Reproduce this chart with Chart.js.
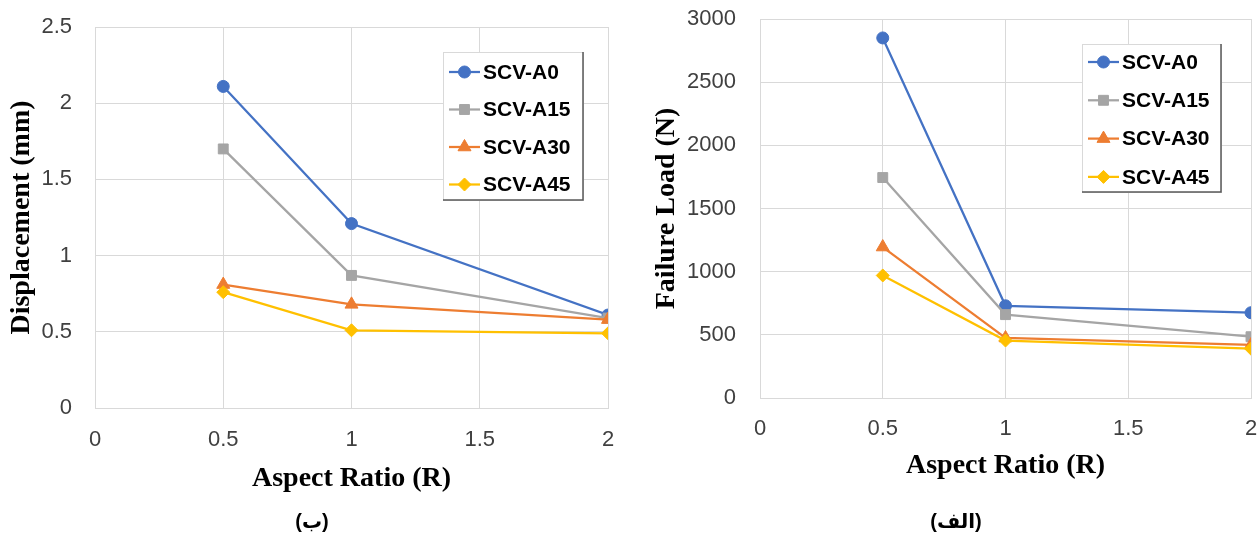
<!DOCTYPE html>
<html>
<head>
<meta charset="utf-8">
<script src="https://cdn.jsdelivr.net/npm/chart.js@4/dist/chart.umd.min.js"></script>
<style>
  body { margin: 0; background: #fff; width: 1260px; height: 533px; overflow: hidden; position: relative; }
  .panel { position: absolute; top: 0; width: 630px; height: 533px; }
  .cap { position: absolute; top: 509px; font: bold 20px "Liberation Sans", "DejaVu Sans", sans-serif; color: #000; transform: translateX(-50%); white-space: nowrap; }
</style>
</head>
<body>
<div class="panel" style="left:0"><canvas id="dispChart" width="630" height="533"></canvas></div>
<div class="panel" style="left:630px"><canvas id="loadChart" width="630" height="533"></canvas></div>
<div class="cap" style="left:312px">(ب)</div>
<div class="cap" style="left:956px">(الف)</div>
<script>
const ratios = [0.5, 1, 2];
const xTicks = [0, 0.5, 1, 1.5, 2];
const seriesNames = ["SCV-A0", "SCV-A15", "SCV-A30", "SCV-A45"];

// displacement (mm)
const dispA0 = [2.11, 1.21, 0.61];
const dispA15 = [1.70, 0.87, 0.59];
const dispA30 = [0.81, 0.68, 0.58];
const dispA45 = [0.76, 0.51, 0.49];
const dispTicks = [0, 0.5, 1, 1.5, 2, 2.5];

// failure load (N)
const loadA0 = [2850, 730, 675];
const loadA15 = [1745, 660, 485];
const loadA30 = [1195, 475, 420];
const loadA45 = [970, 455, 390];
const loadTicks = [0, 500, 1000, 1500, 2000, 2500, 3000];

const colors = ["#4472C4", "#A5A5A5", "#ED7D31", "#FFC000"];
const markers = ["circle", "rect", "triangle", "rectRot"];
const markerSize = [6, 7, 7.5, 6.5];

const tickFont = { family: '"Liberation Sans", Arial, sans-serif', size: 22 };
const titleFont = { family: '"Liberation Serif", "Times New Roman", serif', size: 28, weight: "bold" };

const legendBox = {
  id: "legendBox",
  afterDraw(chart, args, opts) {
    const ctx = chart.ctx;
    const { x, y, w, h, rowTop, rowStep } = opts;
    ctx.save();
    ctx.fillStyle = "#fff";
    ctx.fillRect(x, y, w, h);
    ctx.strokeStyle = "#d9d9d9";
    ctx.lineWidth = 1;
    ctx.strokeRect(x + 0.5, y + 0.5, w, h);
    ctx.strokeStyle = "#595959";
    ctx.lineWidth = 1.5;
    ctx.beginPath();
    ctx.moveTo(x + w, y);
    ctx.lineTo(x + w, y + h);
    ctx.lineTo(x, y + h);
    ctx.stroke();

    ctx.font = 'bold 21px "Liberation Sans", Arial, sans-serif';
    ctx.textBaseline = "middle";
    chart.data.datasets.forEach((ds, i) => {
      const ry = y + rowTop + i * rowStep;
      ctx.strokeStyle = ds.borderColor;
      ctx.lineWidth = 2.25;
      ctx.beginPath();
      ctx.moveTo(x + 6, ry);
      ctx.lineTo(x + 37, ry);
      ctx.stroke();
      ctx.fillStyle = ds.backgroundColor;
      ctx.strokeStyle = ds.borderColor;
      ctx.lineWidth = 1;
      Chart.helpers.drawPoint(ctx, { pointStyle: ds.pointStyle, radius: ds.pointRadius, borderWidth: 1 }, x + 21.5, ry);
      ctx.fillStyle = "#000";
      ctx.fillText(ds.label, x + 40, ry + 1);
    });
    ctx.restore();
  }
};

function makeChart(id, yTitle, values, yTicks, lay) {
  const datasets = values.map((vals, i) => ({
    label: seriesNames[i],
    data: vals.map((v, j) => ({ x: ratios[j], y: v })),
    borderColor: colors[i],
    backgroundColor: colors[i],
    borderWidth: 2.25,
    pointStyle: markers[i],
    pointRadius: markerSize[i],
    pointBorderWidth: 1,
    order: values.length - i,
    tension: 0
  }));

  return new Chart(document.getElementById(id), {
    type: "line",
    data: { datasets },
    plugins: [legendBox],
    options: {
      responsive: false,
      animation: false,
      devicePixelRatio: 1,
      layout: { padding: { left: 0, right: lay.padRight, top: lay.padTop, bottom: 0 } },
      plugins: {
        legend: { display: false },
        tooltip: { enabled: false },
        legendBox: lay.legend
      },
      scales: {
        x: {
          type: "linear",
          min: 0,
          max: 2,
          afterBuildTicks: (axis) => { axis.ticks = xTicks.map((v) => ({ value: v })); },
          afterFit: (axis) => { axis.height = lay.xAxisH; },
          // invisible tick marks give the label gap without padding the chart area
          grid: { color: "#d9d9d9", lineWidth: 1, drawTicks: true, tickLength: lay.xTickGap, tickColor: "rgba(0,0,0,0)" },
          border: { color: "#d9d9d9" },
          ticks: { padding: 0, color: "#404040", font: tickFont, callback: (v) => String(v) },
          title: {
            display: true,
            text: "Aspect Ratio (R)",
            color: "#000",
            font: titleFont,
            padding: { top: 0, bottom: lay.xTitlePad }
          }
        },
        y: {
          min: 0,
          max: yTicks[yTicks.length - 1],
          afterBuildTicks: (axis) => { axis.ticks = yTicks.map((v) => ({ value: v })); },
          afterFit: (axis) => { axis.width = lay.yAxisW; },
          grid: { color: "#d9d9d9", lineWidth: 1, drawTicks: true, tickLength: lay.yTickGap, tickColor: "rgba(0,0,0,0)" },
          border: { color: "#d9d9d9" },
          ticks: { padding: 0, color: "#404040", font: tickFont, callback: (v) => String(v) },
          title: {
            display: true,
            text: yTitle,
            color: "#000",
            font: titleFont,
            padding: { top: lay.yTitlePad, bottom: 0 }
          }
        }
      }
    }
  });
}

makeChart("dispChart", "Displacement (mm)", [dispA0, dispA15, dispA30, dispA45], dispTicks, {
  padRight: 22, padTop: 27, xAxisH: 125, yAxisW: 95,
  xTickGap: 19, yTickGap: 23, xTitlePad: 37, yTitlePad: 5,
  legend: { x: 443, y: 52, w: 140, h: 148, rowTop: 20, rowStep: 37.5 }
});

makeChart("loadChart", "Failure Load (N)", [loadA0, loadA15, loadA30, loadA45], loadTicks, {
  padRight: 9, padTop: 19, xAxisH: 135, yAxisW: 130,
  xTickGap: 18, yTickGap: 24, xTitlePad: 50, yTitlePad: 20,
  legend: { x: 452, y: 44, w: 139, h: 148, rowTop: 18, rowStep: 38.3 }
});
</script>
</body>
</html>
